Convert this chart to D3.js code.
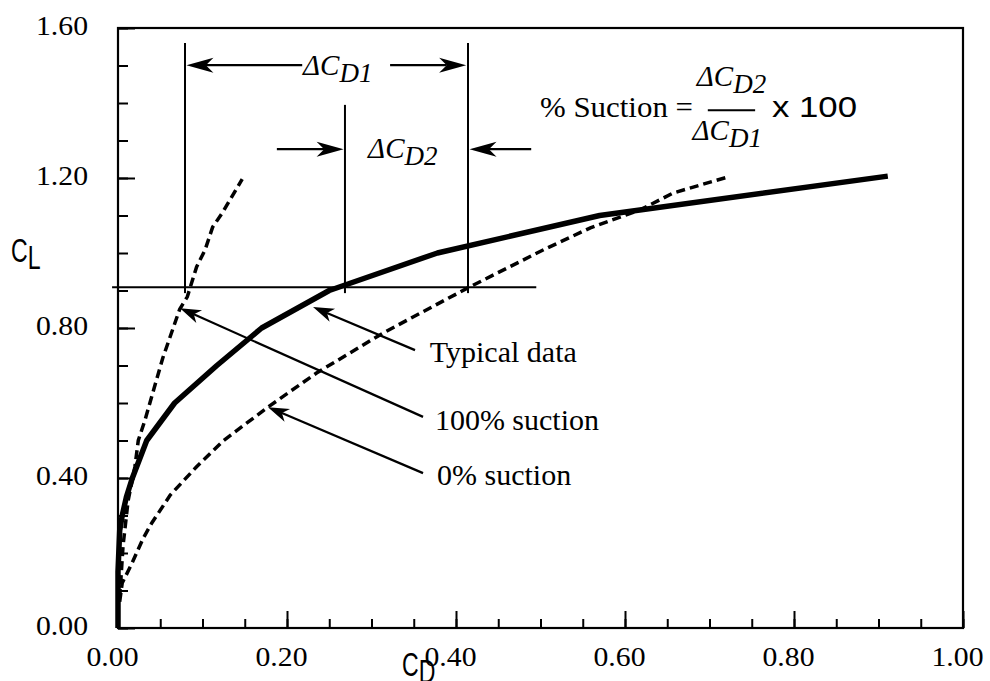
<!DOCTYPE html>
<html><head><meta charset="utf-8">
<script src="https://cdn.jsdelivr.net/npm/d3@7"></script>
<style>html,body{margin:0;padding:0;background:#fff}svg{display:block}</style>
</head><body>
<svg id="chart" width="990" height="681"></svg>
<script>
// ---- data ----
const typicalCD = [0, 0.0, 0.002, 0.005, 0.01, 0.017, 0.034, 0.067, 0.117, 0.17, 0.25, 0.378, 0.57, 0.911];
const typicalCL = [0, 0.15, 0.26, 0.3, 0.35, 0.4, 0.5, 0.6, 0.7, 0.8, 0.9, 1.0, 1.1, 1.205];
const full100CD = [0.002, 0.006, 0.012, 0.02, 0.024, 0.032, 0.053, 0.073, 0.082, 0.093, 0.103, 0.112, 0.124, 0.147];
const full100CL = [0.08, 0.22, 0.34, 0.43, 0.5, 0.555, 0.72, 0.85, 0.883, 0.963, 1.008, 1.069, 1.109, 1.197];
const zero0CD = [0.002, 0.005, 0.016, 0.03, 0.04, 0.062, 0.093, 0.125, 0.178, 0.235, 0.314, 0.414, 0.503, 0.559, 0.618, 0.657, 0.722];
const zero0CL = [0.07, 0.12, 0.17, 0.24, 0.28, 0.355, 0.43, 0.5, 0.59, 0.68, 0.787, 0.907, 1.008, 1.067, 1.115, 1.16, 1.203];
const xMajorTicks = [0, 0.2, 0.4, 0.6, 0.8, 1.0];
const yMajorTicks = [0, 0.4, 0.8, 1.2, 1.6];
const xMinorTicks = d3.range(0, 1.0001, 0.05);
const yMinorTicks = d3.range(0, 1.6001, 0.1);
// construction lines (data units)
const refCL = 0.909;
const refSpanCD = [-0.007, 0.495];
const verticalCD = [0.0793, 0.2686, 0.4142];
const verticalTopCL = [1.56, 1.395, 1.56];
const verticalBottomCL = 0.893;
// arrows: [tailCD, tailCL, tipCD, tipCL]
const deltaArrows = [[0.218, 1.501, 0.081, 1.501], [0.322, 1.501, 0.412, 1.501],
                     [0.188, 1.277, 0.267, 1.277], [0.489, 1.277, 0.416, 1.277]];
const calloutArrows = [[0.3515, 0.741, 0.2308, 0.856], [0.361, 0.563, 0.0734, 0.853], [0.361, 0.413, 0.1775, 0.589]];
const calloutLabels = ["Typical data", "100% suction", "0% suction"];
const calloutPos = [[0.369, 0.709], [0.375, 0.528], [0.3775, 0.381]];

// ---- scales ----
const svg = d3.select("#chart");
const x = d3.scaleLinear().domain([0, 1]).range([118, 963]);
const y = d3.scaleLinear().domain([0, 1.6]).range([628, 28]);
const serif = "'Liberation Serif','Times New Roman',serif";
const sans = "'Liberation Sans',Arial,sans-serif";

// frame
svg.append("rect").attr("x", x(0)).attr("y", y(1.6)).attr("width", x(1) - x(0)).attr("height", y(0) - y(1.6))
  .attr("fill", "none").attr("stroke", "#000").attr("stroke-width", 2.2);

// axes (inward ticks)
const gx = svg.append("g").attr("transform", `translate(0,${y(0)})`);
gx.call(d3.axisBottom(x).tickValues(xMinorTicks).tickSizeInner(-9).tickSizeOuter(0).tickFormat(""));
const gxM = svg.append("g").attr("transform", `translate(0,${y(0)})`);
gxM.call(d3.axisBottom(x).tickValues(xMajorTicks).tickSizeInner(-17).tickSizeOuter(0).tickPadding(18).tickFormat(d3.format(".2f")));
const gy = svg.append("g").attr("transform", `translate(${x(0)},0)`);
gy.call(d3.axisLeft(y).tickValues(yMinorTicks).tickSizeInner(-10).tickSizeOuter(0).tickFormat(""));
const gyM = svg.append("g").attr("transform", `translate(${x(0)},0)`);
gyM.call(d3.axisLeft(y).tickValues(yMajorTicks).tickSizeInner(-17).tickSizeOuter(0).tickPadding(30).tickFormat(d3.format(".2f")));
svg.selectAll(".domain").remove();
svg.selectAll(".tick line").attr("stroke", "#000").attr("stroke-width", 2);
svg.selectAll(".tick text").attr("font-family", serif).attr("font-size", 28).attr("fill", "#000")
  .attr("textLength", 52).attr("lengthAdjust", "spacingAndGlyphs");
gxM.selectAll(".tick text").attr("dx", -6);
gyM.selectAll(".tick text").attr("dy", 6);

// curves
const line = d3.line().x(d => x(d[0])).y(d => y(d[1]));
const zip = (a, b) => a.map((v, i) => [v, b[i]]);
svg.append("path").datum(zip(zero0CD, zero0CL)).attr("d", line).attr("fill", "none")
  .attr("stroke", "#000").attr("stroke-width", 3.5).attr("stroke-dasharray", "9,5");
svg.append("path").datum(zip(full100CD, full100CL)).attr("d", line).attr("fill", "none")
  .attr("stroke", "#000").attr("stroke-width", 3.5).attr("stroke-dasharray", "9,5");
svg.append("path").datum(zip(typicalCD, typicalCL)).attr("d", line).attr("fill", "none")
  .attr("stroke", "#000").attr("stroke-width", 5.5).attr("stroke-linejoin", "round");

// construction lines
svg.append("line").attr("x1", x(refSpanCD[0])).attr("x2", x(refSpanCD[1])).attr("y1", y(refCL)).attr("y2", y(refCL))
  .attr("stroke", "#000").attr("stroke-width", 2);
verticalCD.forEach((v, i) => {
  svg.append("line").attr("x1", x(v)).attr("x2", x(v)).attr("y1", y(verticalTopCL[i])).attr("y2", y(verticalBottomCL))
    .attr("stroke", "#000").attr("stroke-width", 2);
});

function arrow(a, L, W) {
  const x1 = x(a[0]), y1 = y(a[1]), x2 = x(a[2]), y2 = y(a[3]);
  const dx = x2 - x1, dy = y2 - y1, len = Math.hypot(dx, dy);
  const ux = dx / len, uy = dy / len, nx = -uy, ny = ux;
  const nxp = x2 - 0.72 * L * ux, nyp = y2 - 0.72 * L * uy;
  svg.append("line").attr("x1", x1).attr("y1", y1).attr("x2", nxp).attr("y2", nyp)
    .attr("stroke", "#000").attr("stroke-width", 2.2);
  const pts = [[x2, y2], [x2 - L * ux + W * nx, y2 - L * uy + W * ny], [nxp, nyp], [x2 - L * ux - W * nx, y2 - L * uy - W * ny]];
  svg.append("path").attr("d", "M" + pts.map(p => p.join(",")).join("L") + "Z").attr("fill", "#000");
}
deltaArrows.forEach(a => arrow(a, 27, 7.5));
calloutArrows.forEach(a => arrow(a, 21, 7));

// callout labels
calloutLabels.forEach((t, i) => {
  svg.append("text").attr("x", x(calloutPos[i][0])).attr("y", y(calloutPos[i][1]))
    .attr("font-family", serif).attr("font-size", 30).text(t);
});

// delta labels
function deltaLabel(px, py, sub) {
  const t = svg.append("text").attr("x", px).attr("y", py).attr("font-family", serif).attr("font-style", "italic").attr("font-size", 29);
  t.append("tspan").text("\u0394C");
  t.append("tspan").attr("dy", 7).attr("font-size", 27).text(sub);
}
deltaLabel(x(0.219), y(1.475), "D1");
deltaLabel(x(0.296), y(1.253), "D2");

// formula
svg.append("text").attr("x", x(0.4994)).attr("y", y(1.363)).attr("font-family", serif).attr("font-size", 30)
  .attr("textLength", 153).attr("lengthAdjust", "spacingAndGlyphs").text("% Suction =");
deltaLabel(x(0.685), y(1.427) - 7, "D2");
deltaLabel(x(0.680), y(1.283) - 7, "D1");
svg.append("line").attr("x1", x(0.698)).attr("x2", x(0.754)).attr("y1", y(1.381)).attr("y2", y(1.381)).attr("stroke", "#000").attr("stroke-width", 2);
svg.append("text").attr("x", x(0.774)).attr("y", y(1.363)).attr("font-family", sans).attr("font-size", 30)
  .attr("textLength", 85).attr("lengthAdjust", "spacingAndGlyphs").text("x 100");

// axis titles
function axTitle(px, py, sub) {
  const t = svg.append("text").attr("transform", `translate(${px},${py}) scale(0.7,1)`)
    .attr("font-family", sans).attr("font-size", 33);
  t.append("tspan").text("C");
  t.append("tspan").attr("dy", 7).text(sub);
}
axTitle(11, 262, "L");
axTitle(402, 676, "D");
</script>
</body></html>
